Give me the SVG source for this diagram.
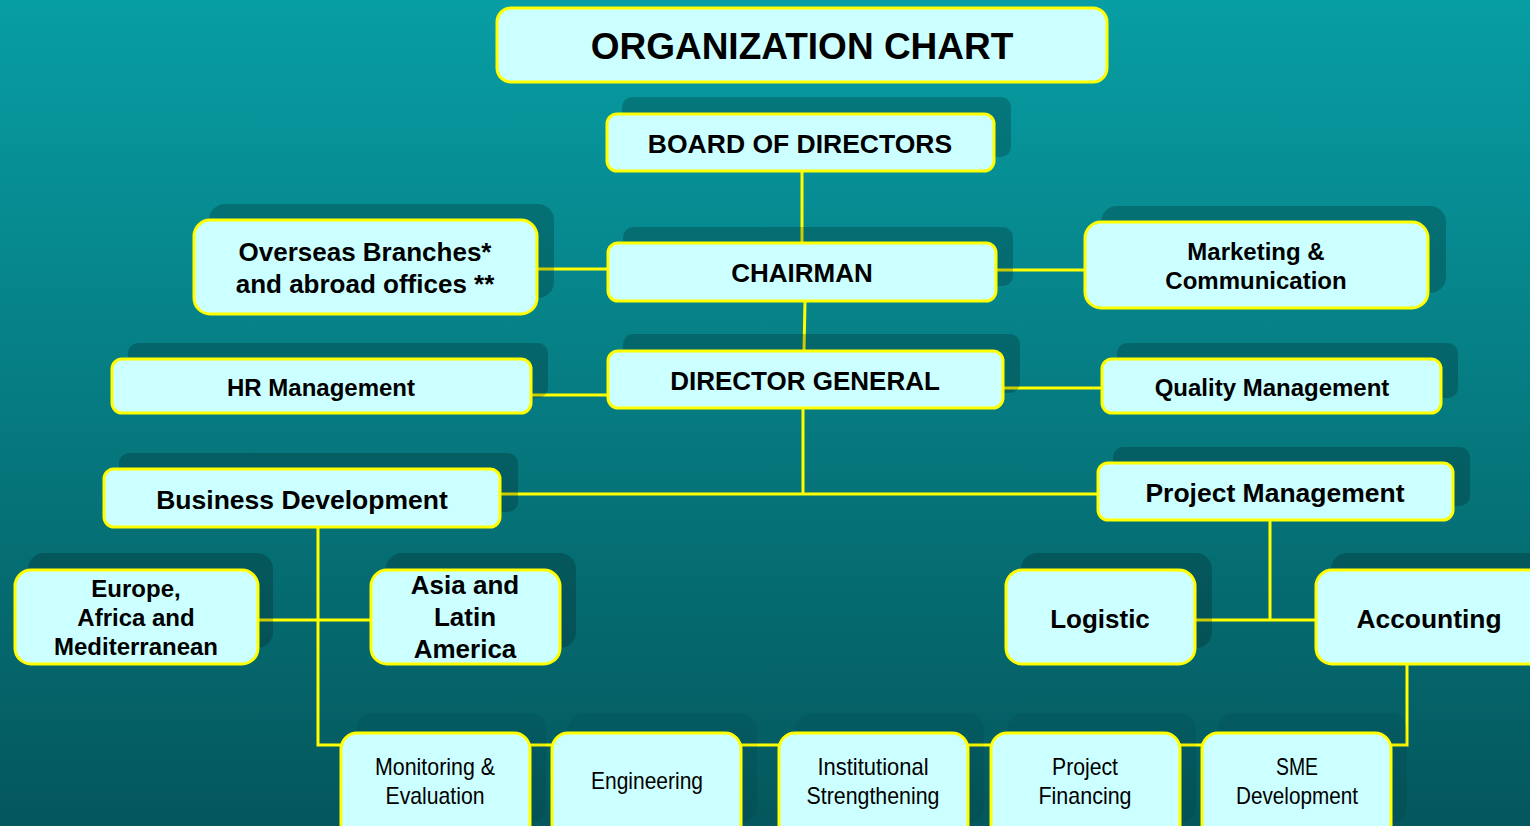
<svg xmlns="http://www.w3.org/2000/svg" width="1530" height="826" viewBox="0 0 1530 826">
<defs>
<linearGradient id="bg" x1="0" y1="0" x2="0" y2="1">
<stop offset="0" stop-color="#079ea4"/>
<stop offset="1" stop-color="#04575c"/>
</linearGradient>
<style>
.box{fill:#ccffff;stroke:#ffff00;stroke-width:3}
.sh{fill:#000;opacity:0.2}
.sh2{fill:#000;opacity:0.06}
.conn{stroke:#ffff00;stroke-width:3;fill:none}
.b{font-family:"Liberation Sans",Arial,sans-serif;font-weight:bold;fill:#000;text-anchor:middle}
.n{font-family:"Liberation Sans",Arial,sans-serif;font-size:24px;fill:#000;text-anchor:middle}
</style>
</defs>
<rect x="0" y="0" width="1530" height="826" fill="url(#bg)"/>

<g id="connectors">
<path class="conn" d="M802 171 V243"/>
<path class="conn" d="M805 301 L804 351"/>
<path class="conn" d="M537 269 H608"/>
<path class="conn" d="M996 270 H1085"/>
<path class="conn" d="M531 395 H608"/>
<path class="conn" d="M1003 388 H1102"/>
<path class="conn" d="M803 408 V494"/>
<path class="conn" d="M500 494 H1098"/>
<path class="conn" d="M318 527 V745 H341"/>
<path class="conn" d="M258 620 H371"/>
<path class="conn" d="M530 745 H552"/>
<path class="conn" d="M741 745 H779"/>
<path class="conn" d="M968 745 H991"/>
<path class="conn" d="M1180 745 H1202"/>
<path class="conn" d="M1391 745 H1407 V664"/>
<path class="conn" d="M1270 520 V620"/>
<path class="conn" d="M1195 620 H1316"/>
</g>

<g id="title">
<rect class="box" x="497" y="8" width="610" height="74" rx="14"/>
<text class="b" x="802" y="59" font-size="37">ORGANIZATION CHART</text>
</g>

<g id="board">
<rect class="sh" x="622" y="97" width="389" height="60" rx="10"/>
<rect class="box" x="607" y="114" width="387" height="57" rx="10"/>
<text class="b" x="800" y="153" font-size="26.5">BOARD OF DIRECTORS</text>
</g>

<g id="chairman">
<rect class="sh" x="623" y="227" width="390" height="59" rx="10"/>
<rect class="box" x="608" y="243" width="388" height="58" rx="10"/>
<text class="b" x="802" y="282" font-size="26">CHAIRMAN</text>
</g>

<g id="overseas">
<rect class="sh" x="209" y="204" width="345" height="94" rx="16"/>
<rect class="box" x="194" y="220" width="343" height="94" rx="16"/>
<text class="b" x="365" y="261" font-size="26">Overseas Branches*</text>
<text class="b" x="365" y="293" font-size="26">and abroad offices **</text>
</g>

<g id="marketing">
<rect class="sh" x="1101" y="206" width="345" height="87" rx="16"/>
<rect class="box" x="1085" y="222" width="343" height="86" rx="16"/>
<text class="b" x="1256" y="260" font-size="24">Marketing &amp;</text>
<text class="b" x="1256" y="289" font-size="24">Communication</text>
</g>

<g id="hr">
<rect class="sh" x="128" y="343" width="420" height="55" rx="10"/>
<rect class="box" x="112" y="359" width="419" height="54" rx="10"/>
<text class="b" x="321" y="396" font-size="24">HR Management</text>
</g>

<g id="director-general">
<rect class="sh" x="623" y="334" width="397" height="59" rx="10"/>
<rect class="box" x="608" y="351" width="395" height="57" rx="10"/>
<text class="b" x="805" y="390" font-size="26">DIRECTOR GENERAL</text>
</g>

<g id="quality">
<rect class="sh" x="1117" y="343" width="341" height="55" rx="10"/>
<rect class="box" x="1102" y="359" width="339" height="54" rx="10"/>
<text class="b" x="1272" y="396" font-size="24">Quality Management</text>
</g>

<g id="business-development">
<rect class="sh" x="119" y="453" width="399" height="59" rx="10"/>
<rect class="box" x="104" y="469" width="396" height="58" rx="10"/>
<text class="b" x="302" y="509" font-size="26.5">Business Development</text>
</g>

<g id="project-management">
<rect class="sh" x="1113" y="447" width="357" height="59" rx="10"/>
<rect class="box" x="1098" y="463" width="355" height="57" rx="10"/>
<text class="b" x="1275" y="502" font-size="26.5">Project Management</text>
</g>

<g id="europe">
<rect class="sh" x="28" y="553" width="245" height="95" rx="16"/>
<rect class="box" x="15" y="570" width="243" height="94" rx="16"/>
<text class="b" x="136" y="597" font-size="24">Europe,</text>
<text class="b" x="136" y="626" font-size="24">Africa and</text>
<text class="b" x="136" y="655" font-size="24">Mediterranean</text>
</g>

<g id="asia">
<rect class="sh" x="386" y="553" width="190" height="95" rx="16"/>
<rect class="box" x="371" y="570" width="189" height="94" rx="16"/>
<text class="b" x="465" y="594" font-size="26">Asia and</text>
<text class="b" x="465" y="626" font-size="26">Latin</text>
<text class="b" x="465" y="658" font-size="26">America</text>
</g>

<g id="logistic">
<rect class="sh" x="1021" y="553" width="191" height="95" rx="16"/>
<rect class="box" x="1006" y="570" width="189" height="94" rx="16"/>
<text class="b" x="1100" y="628" font-size="26">Logistic</text>
</g>

<g id="accounting">
<rect class="sh" x="1331" y="553" width="230" height="95" rx="16"/>
<rect class="box" x="1316" y="570" width="230" height="94" rx="16"/>
<text class="b" x="1429" y="628" font-size="26.4">Accounting</text>
</g>

<g id="monitoring">
<rect class="sh2" x="357" y="713" width="189" height="110" rx="16"/>
<rect class="box" x="341" y="733" width="189" height="110" rx="16"/>
<text class="n" x="435" y="775" textLength="120" lengthAdjust="spacingAndGlyphs">Monitoring &amp;</text>
<text class="n" x="435" y="804" textLength="99" lengthAdjust="spacingAndGlyphs">Evaluation</text>
</g>

<g id="engineering">
<rect class="sh2" x="568" y="713" width="189" height="110" rx="16"/>
<rect class="box" x="552" y="733" width="189" height="110" rx="16"/>
<text class="n" x="647" y="789" textLength="112" lengthAdjust="spacingAndGlyphs">Engineering</text>
</g>

<g id="institutional">
<rect class="sh2" x="795" y="713" width="189" height="110" rx="16"/>
<rect class="box" x="779" y="733" width="189" height="110" rx="16"/>
<text class="n" x="873" y="775" textLength="111" lengthAdjust="spacingAndGlyphs">Institutional</text>
<text class="n" x="873" y="804" textLength="133" lengthAdjust="spacingAndGlyphs">Strengthening</text>
</g>

<g id="project-financing">
<rect class="sh2" x="1007" y="713" width="189" height="110" rx="16"/>
<rect class="box" x="991" y="733" width="189" height="110" rx="16"/>
<text class="n" x="1085" y="775" textLength="66" lengthAdjust="spacingAndGlyphs">Project</text>
<text class="n" x="1085" y="804" textLength="93" lengthAdjust="spacingAndGlyphs">Financing</text>
</g>

<g id="sme">
<rect class="sh2" x="1218" y="713" width="189" height="110" rx="16"/>
<rect class="box" x="1202" y="733" width="189" height="110" rx="16"/>
<text class="n" x="1297" y="775" textLength="42" lengthAdjust="spacingAndGlyphs">SME</text>
<text class="n" x="1297" y="804" textLength="122" lengthAdjust="spacingAndGlyphs">Development</text>
</g>
</svg>
